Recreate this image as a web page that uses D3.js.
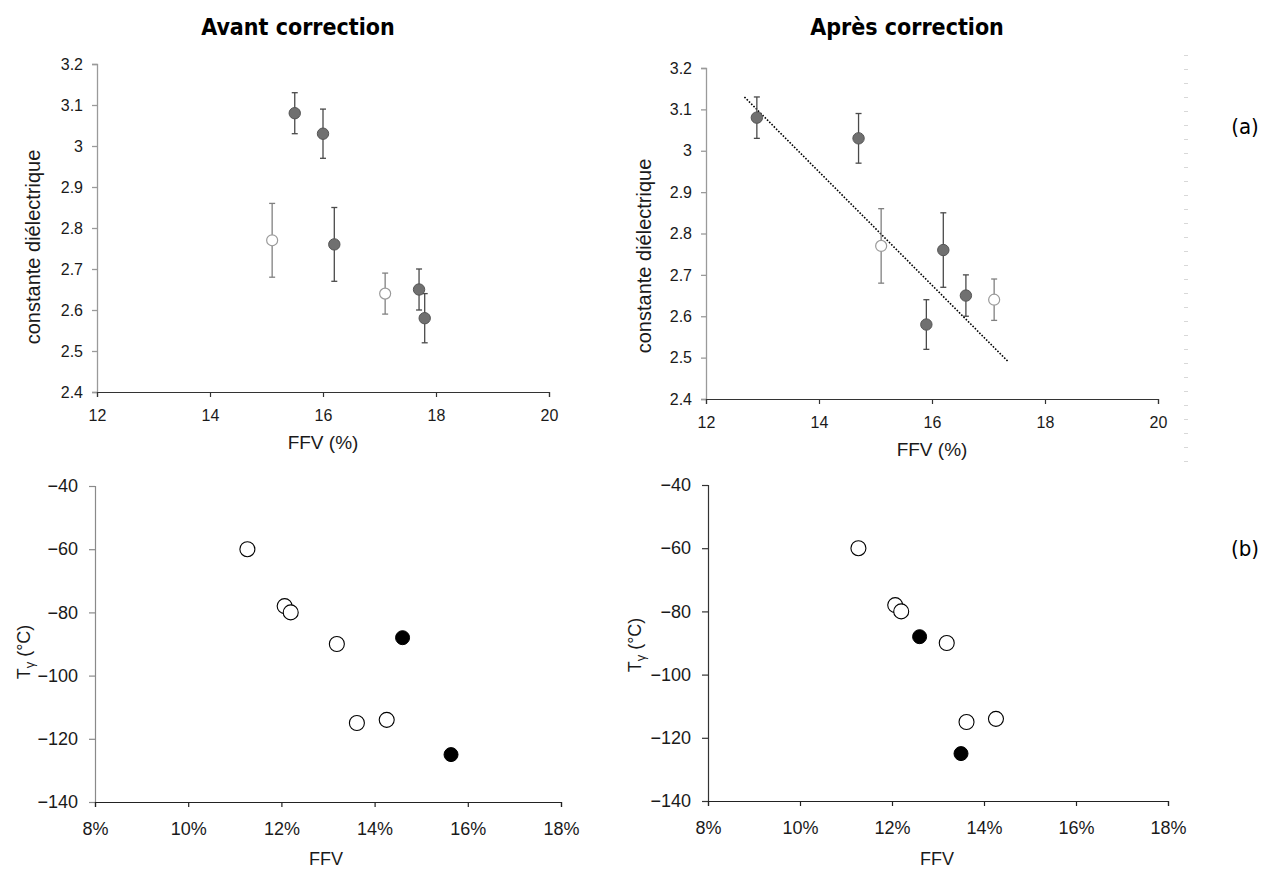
<!DOCTYPE html>
<html>
<head>
<meta charset="utf-8">
<script src="https://cdn.jsdelivr.net/npm/d3@7"></script>
<style>
  html, body { margin: 0; padding: 0; background: #ffffff; }
  svg { display: block; }
  .tick text { font-family: "Liberation Sans", Arial, sans-serif; fill: #1a1a1a; }
</style>
</head>
<body>
<svg id="chart" width="1267" height="870"></svg>
<script>
// ---------- DATA ----------
const topXTicks = [12, 14, 16, 18, 20];
const topYTicks = [2.4, 2.5, 2.6, 2.7, 2.8, 2.9, 3.0, 3.1, 3.2];
const botXTicks = [8, 10, 12, 14, 16, 18];
const botYTicks = [-140, -120, -100, -80, -60, -40];

// (a) Avant correction — filled points
const avantFilledFFV = [15.5, 16.0, 16.2, 17.7, 17.8];
const avantFilledEps = [3.08, 3.03, 2.76, 2.65, 2.58];
const avantFilledLo  = [3.03, 2.97, 2.67, 2.60, 2.52];
const avantFilledHi  = [3.13, 3.09, 2.85, 2.70, 2.64];
// (a) Avant correction — open points
const avantOpenFFV = [15.1, 17.1];
const avantOpenEps = [2.77, 2.64];
const avantOpenLo  = [2.68, 2.59];
const avantOpenHi  = [2.86, 2.69];

// (a) Après correction — filled points
const apresFilledFFV = [12.9, 14.7, 16.2, 15.9, 16.6];
const apresFilledEps = [3.08, 3.03, 2.76, 2.58, 2.65];
const apresFilledLo  = [3.03, 2.97, 2.67, 2.52, 2.60];
const apresFilledHi  = [3.13, 3.09, 2.85, 2.64, 2.70];
// (a) Après correction — open points
const apresOpenFFV = [15.1, 17.1];
const apresOpenEps = [2.77, 2.64];
const apresOpenLo  = [2.68, 2.59];
const apresOpenHi  = [2.86, 2.69];
// (a) Après correction — dotted trend line end points
const trendFFV = [12.68, 17.35];
const trendEps = [3.13, 2.49];

// (b) open points (same in both panels)
const tgOpenFFV = [11.27, 12.07, 12.2, 13.19, 13.62, 14.26];
const tgOpenT   = [-60, -78, -80, -90, -115, -114];
// (b) filled points
const tgAvantFilledFFV = [14.6, 15.64];
const tgAvantFilledT   = [-88, -125];
const tgApresFilledFFV = [12.6, 13.5];
const tgApresFilledT   = [-88, -125];

// ---------- DRAW ----------
const svg = d3.select("#chart");
const FONT = '"Liberation Sans", Arial, sans-serif';
const TFONT = '"DejaVu Sans Condensed", "DejaVu Sans", sans-serif';

function zip(xs, ys, lo, hi) {
  return xs.map((x, i) => ({ x, y: ys[i], lo: lo ? lo[i] : null, hi: hi ? hi[i] : null }));
}

function topPanel(cfg) {
  const x = d3.scaleLinear().domain([12, 20]).range(cfg.xr);
  const y = d3.scaleLinear().domain([2.4, 3.2]).range(cfg.yr);
  const g = svg.append("g");

  const ya = g.append("g").attr("transform", `translate(${cfg.xr[0]},0)`)
    .call(d3.axisLeft(y).tickValues(topYTicks).tickSize(5).tickPadding(9)
      .tickFormat(d => String(+d.toFixed(1))));
  ya.selectAll("path,line").attr("stroke", "#9a9a9a").attr("stroke-width", 1.3);
  ya.selectAll("text").attr("font-size", 16).attr("font-family", FONT);

  const xa = g.append("g").attr("transform", `translate(0,${cfg.yr[0]})`)
    .call(d3.axisBottom(x).tickValues(topXTicks).tickSize(5).tickPadding(13));
  xa.selectAll("path,line").attr("stroke", "#333").attr("stroke-width", 1.2);
  xa.selectAll("text").attr("font-size", 16).attr("font-family", FONT);

  g.append("text").attr("x", x(16)).attr("y", cfg.yr[0] + 57)
    .attr("text-anchor", "middle").attr("font-family", FONT).attr("font-size", 19)
    .attr("fill", "#1a1a1a").text("FFV (%)");
  g.append("text")
    .attr("transform", `translate(${cfg.ylabX},${cfg.ylabY}) rotate(-90)`)
    .attr("text-anchor", "middle").attr("font-family", FONT).attr("font-size", 20)
    .attr("fill", "#1a1a1a").text("constante diélectrique");

  g.append("text").attr("x", cfg.titleX).attr("y", 35)
    .attr("text-anchor", "middle").attr("font-family", TFONT).attr("font-weight", "bold")
    .attr("font-size", 23).attr("fill", "#000").text(cfg.title);

  if (cfg.trend) {
    g.append("path")
      .datum(cfg.trend)
      .attr("d", d3.line().x(d => x(d.x)).y(d => y(d.y)))
      .attr("fill", "none").attr("stroke", "#000").attr("stroke-width", 1.6)
      .attr("stroke-dasharray", "1.6,1.6");
  }

  function errBars(data, color) {
    const eg = g.append("g").attr("stroke", color).attr("stroke-width", 1.3);
    eg.selectAll(".v").data(data).join("line")
      .attr("x1", d => x(d.x)).attr("x2", d => x(d.x))
      .attr("y1", d => y(d.lo)).attr("y2", d => y(d.hi));
    eg.selectAll(".ct").data(data).join("line")
      .attr("x1", d => x(d.x) - 3).attr("x2", d => x(d.x) + 3)
      .attr("y1", d => y(d.hi)).attr("y2", d => y(d.hi));
    eg.selectAll(".cb").data(data).join("line")
      .attr("x1", d => x(d.x) - 3).attr("x2", d => x(d.x) + 3)
      .attr("y1", d => y(d.lo)).attr("y2", d => y(d.lo));
  }
  errBars(cfg.open, "#808080");
  errBars(cfg.filled, "#4a4a4a");

  g.selectAll(".op").data(cfg.open).join("circle")
    .attr("cx", d => x(d.x)).attr("cy", d => y(d.y)).attr("r", 5.5)
    .attr("fill", "#fff").attr("stroke", "#9a9a9a").attr("stroke-width", 1.2);
  g.selectAll(".fp").data(cfg.filled).join("circle")
    .attr("cx", d => x(d.x)).attr("cy", d => y(d.y)).attr("r", 5.7)
    .attr("fill", "#707070").attr("stroke", "#555").attr("stroke-width", 1);
}

function botPanel(cfg) {
  const x = d3.scaleLinear().domain([8, 18]).range(cfg.xr);
  const y = d3.scaleLinear().domain([-140, -40]).range(cfg.yr);
  const g = svg.append("g");

  const ya = g.append("g").attr("transform", `translate(${cfg.xr[0]},0)`)
    .call(d3.axisLeft(y).tickValues(botYTicks).tickSize(6).tickPadding(11));
  ya.selectAll("path,line").attr("stroke", cfg.yAxisColor).attr("stroke-width", 1.2);
  ya.selectAll("text").attr("font-size", 18).attr("font-family", FONT);

  const xa = g.append("g").attr("transform", `translate(0,${cfg.yr[0]})`)
    .call(d3.axisBottom(x).tickValues(botXTicks).tickSize(5).tickPadding(15)
      .tickFormat(d => d + "%"));
  xa.selectAll("path,line").attr("stroke", "#222").attr("stroke-width", 1.2);
  xa.selectAll("text").attr("font-size", 18).attr("font-family", FONT);

  g.append("text").attr("x", cfg.xlabX).attr("y", 865)
    .attr("text-anchor", "middle").attr("font-family", FONT).attr("font-size", 18)
    .attr("fill", "#1a1a1a").text("FFV");

  const yl = g.append("text")
    .attr("transform", `translate(${cfg.ylabX},${cfg.ylabY}) rotate(-90)`)
    .attr("text-anchor", "middle").attr("font-family", FONT).attr("font-size", 18)
    .attr("fill", "#1a1a1a");
  yl.append("tspan").text("T");
  yl.append("tspan").attr("font-size", 13).attr("dy", 4).text("γ");
  yl.append("tspan").attr("dy", -4).text(" (°C)");

  g.selectAll(".op").data(cfg.open).join("circle")
    .attr("cx", d => x(d.x)).attr("cy", d => y(d.y)).attr("r", 7.5)
    .attr("fill", "#fff").attr("stroke", "#000").attr("stroke-width", 1.1);
  g.selectAll(".fp").data(cfg.filled).join("circle")
    .attr("cx", d => x(d.x)).attr("cy", d => y(d.y)).attr("r", 7)
    .attr("fill", "#000").attr("stroke", "#000");
}

topPanel({
  xr: [97, 549], yr: [392, 64], title: "Avant correction", titleX: 298,
  ylabX: 40, ylabY: 247,
  filled: zip(avantFilledFFV, avantFilledEps, avantFilledLo, avantFilledHi),
  open: zip(avantOpenFFV, avantOpenEps, avantOpenLo, avantOpenHi)
});
topPanel({
  xr: [706, 1158], yr: [399, 68], title: "Après correction", titleX: 907,
  ylabX: 651, ylabY: 256,
  filled: zip(apresFilledFFV, apresFilledEps, apresFilledLo, apresFilledHi),
  open: zip(apresOpenFFV, apresOpenEps, apresOpenLo, apresOpenHi),
  trend: zip(trendFFV, trendEps)
});
botPanel({
  xr: [95, 561], yr: [802, 486], yAxisColor: "#8a8a8a", xlabX: 326,
  ylabX: 30, ylabY: 652,
  open: zip(tgOpenFFV, tgOpenT),
  filled: zip(tgAvantFilledFFV, tgAvantFilledT)
});
botPanel({
  xr: [708, 1168], yr: [801, 485], yAxisColor: "#333", xlabX: 937,
  ylabX: 641, ylabY: 645,
  open: zip(tgOpenFFV, tgOpenT),
  filled: zip(tgApresFilledFFV, tgApresFilledT)
});

// faint dashed guide at the right of the top-right panel
svg.append("line").attr("x1", 1186).attr("x2", 1186).attr("y1", 55).attr("y2", 463)
  .attr("stroke", "#d8d8d8").attr("stroke-width", 4).attr("stroke-dasharray", "1,13");

// panel labels
svg.append("text").attr("x", 1245).attr("y", 134).attr("text-anchor", "middle")
  .attr("font-family", TFONT).attr("font-size", 22).attr("fill", "#000").text("(a)");
svg.append("text").attr("x", 1245).attr("y", 556).attr("text-anchor", "middle")
  .attr("font-family", TFONT).attr("font-size", 22).attr("fill", "#000").text("(b)");
</script>
</body>
</html>
